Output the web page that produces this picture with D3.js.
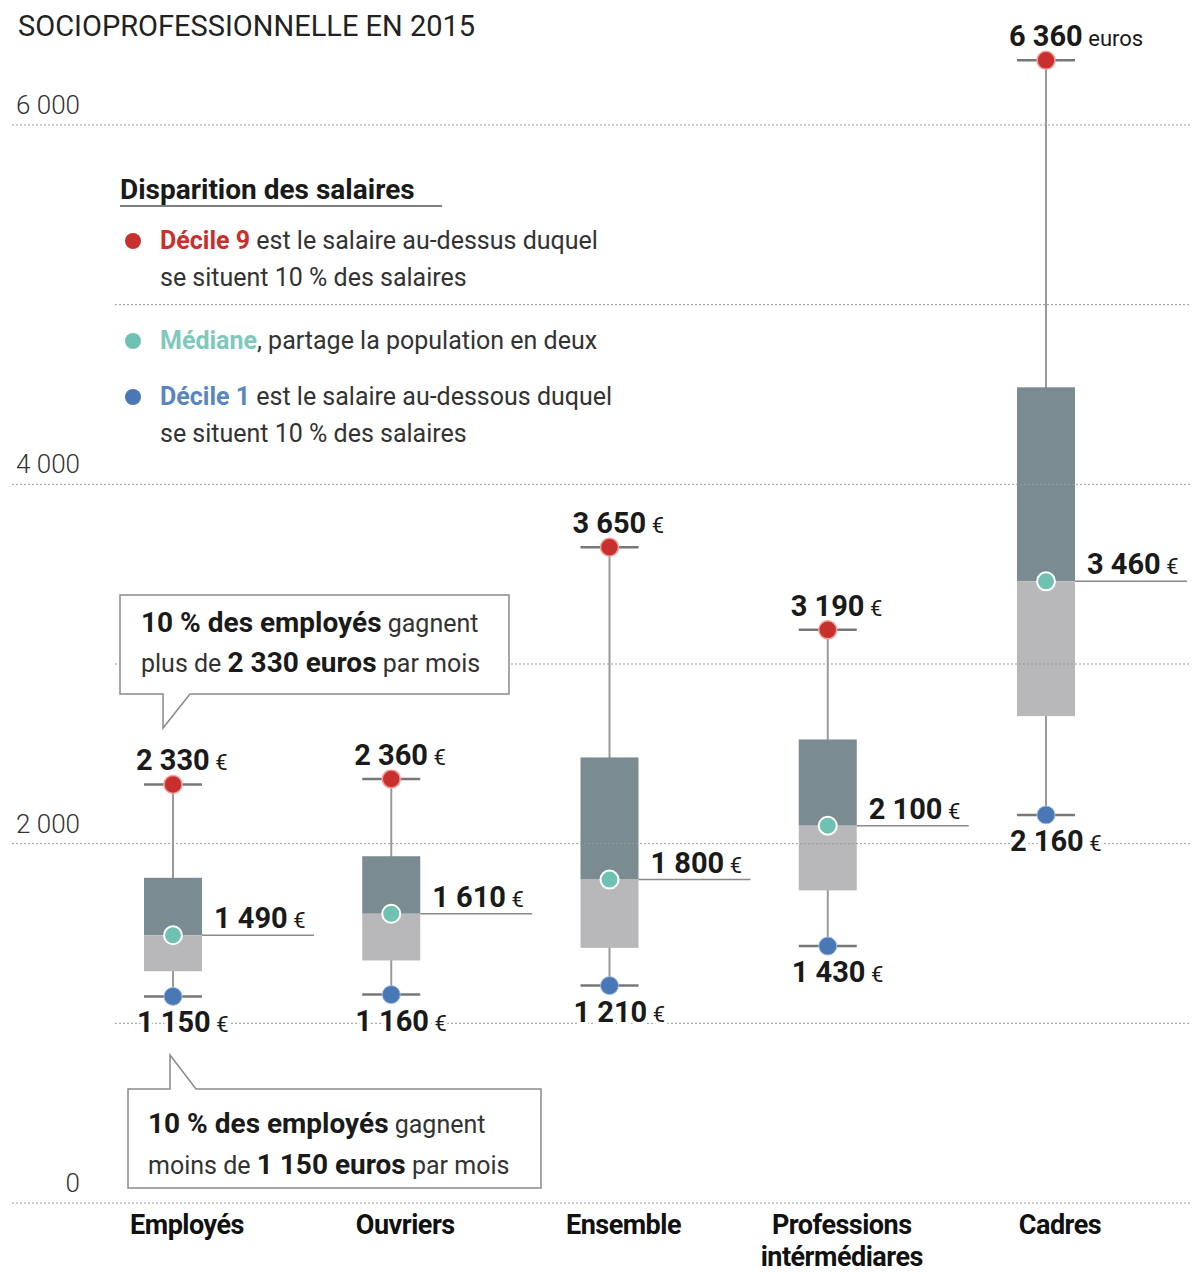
<html>
<head>
<meta charset="utf-8">
<script src="https://d3js.org/d3.v7.min.js"></script>
<style>
  body { margin: 0; background: #fff; }
  text { font-family: Roboto, "Noto Sans", sans-serif; }
  .halo { paint-order: stroke; stroke: #fff; stroke-width: 7px; stroke-linejoin: round; }
</style>
</head>
<body>
<svg id="chart" width="1194" height="1274"></svg>

<script>
var categories = ["Employés", "Ouvriers", "Ensemble", "Professions intérmédiares", "Cadres"];
var decile1 = [1150, 1160, 1210, 1430, 2160];
var quart1  = [1290, 1350, 1420, 1740, 2710];
var median  = [1490, 1610, 1800, 2100, 3460];
var quart3  = [1810, 1930, 2480, 2580, 4540];
var decile9 = [2330, 2360, 3650, 3190, 6360];
var yTicks = [0, 2000, 4000, 6000];
var yMinor = [1000, 3000, 5000];

var red = "#c8302d", teal = "#6fc1b2", blue = "#4a78b5";
var dark = "#7b8b92", light = "#b8b8ba";

var fr = d3.formatLocale({decimal: ",", thousands: " ", grouping: [3], currency: ["", " €"]});
var fmt = fr.format(",");

var svg = d3.select("#chart");

var y = d3.scaleLinear().domain([0, 6000]).range([1203, 125]);
var x = d3.scalePoint().domain(categories).range([173, 1046]);
var bw = 58;

// title (first line is cut off in the original)
svg.append("text").attr("x", 18).attr("y", 36)
  .style("font-size", "29px").style("fill", "#222")
  .text("SOCIOPROFESSIONNELLE EN 2015");

// boxes first, grid drawn over them
var data = categories.map(function(c, i){
  return {c: c, d1: decile1[i], q1: quart1[i], m: median[i], q3: quart3[i], d9: decile9[i], i: i};
});

var g = svg.append("g");
var box = g.selectAll(".box").data(data).enter().append("g").attr("class", "box");

box.append("line")
  .attr("x1", function(d){ return x(d.c); }).attr("x2", function(d){ return x(d.c); })
  .attr("y1", function(d){ return y(d.d9); }).attr("y2", function(d){ return y(d.d1); })
  .style("stroke", "#9a9a9a").style("stroke-width", 2);

box.append("rect")
  .attr("x", function(d){ return x(d.c) - bw / 2; }).attr("width", bw)
  .attr("y", function(d){ return y(d.q3); })
  .attr("height", function(d){ return y(d.m) - y(d.q3); })
  .style("fill", dark);

box.append("rect")
  .attr("x", function(d){ return x(d.c) - bw / 2; }).attr("width", bw)
  .attr("y", function(d){ return y(d.m); })
  .attr("height", function(d){ return y(d.q1) - y(d.m); })
  .style("fill", light);

// grid
var grid = svg.append("g");
grid.selectAll(".major").data(yTicks).enter().append("line")
  .attr("x1", 12).attr("x2", 1190)
  .attr("y1", function(d){ return y(d); }).attr("y2", function(d){ return y(d); })
  .style("stroke", "#9a9a9a").style("stroke-width", 1).style("stroke-dasharray", "2,2");
grid.selectAll(".minor").data(yMinor).enter().append("line")
  .attr("x1", 115).attr("x2", 1190)
  .attr("y1", function(d){ return y(d); }).attr("y2", function(d){ return y(d); })
  .style("stroke", "#9a9a9a").style("stroke-width", 1).style("stroke-dasharray", "2,2");
grid.selectAll(".tick").data(yTicks).enter().append("text")
  .attr("x", 80).attr("y", function(d){ return y(d) - 11; })
  .attr("text-anchor", "end")
  .style("font-size", "26px").style("font-weight", 300).style("fill", "#333")
  .text(function(d){ return fmt(d); });

// caps, median line, dots
var marks = svg.append("g").selectAll("g").data(data).enter().append("g");

["d9", "d1"].forEach(function(k){
  marks.append("line")
    .attr("x1", function(d){ return x(d.c) - bw / 2; }).attr("x2", function(d){ return x(d.c) + bw / 2; })
    .attr("y1", function(d){ return y(d[k]); }).attr("y2", function(d){ return y(d[k]); })
    .style("stroke", "#777").style("stroke-width", 2.5);
});

marks.append("line")
  .attr("x1", function(d){ return x(d.c) + bw / 2; }).attr("x2", function(d){ return x(d.c) + bw / 2 + 112; })
  .attr("y1", function(d){ return y(d.m); }).attr("y2", function(d){ return y(d.m); })
  .style("stroke", "#8a8a8a").style("stroke-width", 1.5);

marks.append("circle").attr("cx", function(d){ return x(d.c); }).attr("cy", function(d){ return y(d.d9); })
  .attr("r", 9).style("fill", red).style("stroke", "#f3a09c").style("stroke-width", 1.5);
marks.append("circle").attr("cx", function(d){ return x(d.c); }).attr("cy", function(d){ return y(d.m); })
  .attr("r", 9).style("fill", teal).style("stroke", "#fff").style("stroke-width", 2);
marks.append("circle").attr("cx", function(d){ return x(d.c); }).attr("cy", function(d){ return y(d.d1); })
  .attr("r", 9).style("fill", blue).style("stroke", "#9fc0e6").style("stroke-width", 1);

// value labels
function valueLabel(sel, key, dx, dy, unit){
  var t = sel.append("text").attr("class", "halo")
    .attr("x", function(d){ return x(d.c) + dx; })
    .attr("y", function(d){ return y(d[key]) + dy; })
    .style("fill", "#1a1a1a");
  t.append("tspan").style("font-size", "29px").style("font-weight", 700)
    .text(function(d){ return fmt(d[key]); });
  t.append("tspan").style("font-size", "22px").style("font-weight", 400)
    .text(function(d){ return unit ? unit(d) : " €"; });
}
valueLabel(marks, "d9", -37, -14, function(d){ return d.i == categories.length - 1 ? " euros" : " €"; });
valueLabel(marks, "d1", -36, 36);
valueLabel(marks, "m", bw / 2 + 12, -7);

// category labels, one text per line
var catG = svg.append("g");
categories.forEach(function(c){
  c.split(" ").forEach(function(w, j){
    catG.append("text")
      .attr("x", x(c) + 14).attr("y", 1234 + j * 32)
      .attr("text-anchor", "middle")
      .style("font-size", "27px").style("font-weight", 700).style("letter-spacing", "-0.5px").style("fill", "#111")
      .text(w);
  });
});

// helper for mixed-weight lines
function rich(parent, x0, y0, parts, size){
  var t = parent.append("text").attr("x", x0).attr("y", y0).style("font-size", size + "px").style("fill", "#333");
  parts.forEach(function(p){
    t.append("tspan").text(p[0])
      .style("font-weight", p[1] ? 700 : 400)
      .style("fill", p[2] || (p[1] ? "#1a1a1a" : "#333"))
      .style("font-size", (p[3] || size) + "px");
  });
  return t;
}

// legend
var leg = svg.append("g");
leg.append("text").attr("x", 120).attr("y", 199)
  .style("font-size", "28px").style("font-weight", 700).style("fill", "#1a1a1a")
  .text("Disparition des salaires");
leg.append("line").attr("x1", 120).attr("x2", 442).attr("y1", 206).attr("y2", 206)
  .style("stroke", "#555").style("stroke-width", 1.5);

leg.append("circle").attr("cx", 133).attr("cy", 241).attr("r", 8).style("fill", red);
rich(leg, 160, 249, [["Décile 9", 1, red], [" est le salaire au-dessus duquel"]], 25);
rich(leg, 160, 286, [["se situent 10 % des salaires"]], 25);
leg.append("circle").attr("cx", 133).attr("cy", 341).attr("r", 8).style("fill", teal);
rich(leg, 160, 349, [["Médiane", 1, "#7fc9bc"], [", partage la population en deux"]], 25);
leg.append("circle").attr("cx", 133).attr("cy", 397).attr("r", 8).style("fill", blue);
rich(leg, 160, 405, [["Décile 1", 1, "#5a86bd"], [" est le salaire au-dessous duquel"]], 25);
rich(leg, 160, 442, [["se situent 10 % des salaires"]], 25);

// callouts
var co = svg.append("g");
co.append("path")
  .attr("d", "M120,595 H509 V694 H190 L163,728 V694 H120 Z")
  .style("fill", "#fff").style("stroke", "#8a8a8a").style("stroke-width", 1.5);
rich(co, 141, 632, [["10 % des employés", 1, null, 28], [" gagnent"]], 25);
rich(co, 141, 672, [["plus de "], [fmt(decile9[0]) + " euros", 1, null, 28], [" par mois"]], 25);

co.append("path")
  .attr("d", "M128,1089 H170 V1055 L196,1089 H541 V1188 H128 Z")
  .style("fill", "#fff").style("stroke", "#8a8a8a").style("stroke-width", 1.5);
rich(co, 148, 1133, [["10 % des employés", 1, null, 28], [" gagnent"]], 25);
rich(co, 148, 1174, [["moins de "], [fmt(decile1[0]) + " euros", 1, null, 28], [" par mois"]], 25);
</script>
</body>
</html>
